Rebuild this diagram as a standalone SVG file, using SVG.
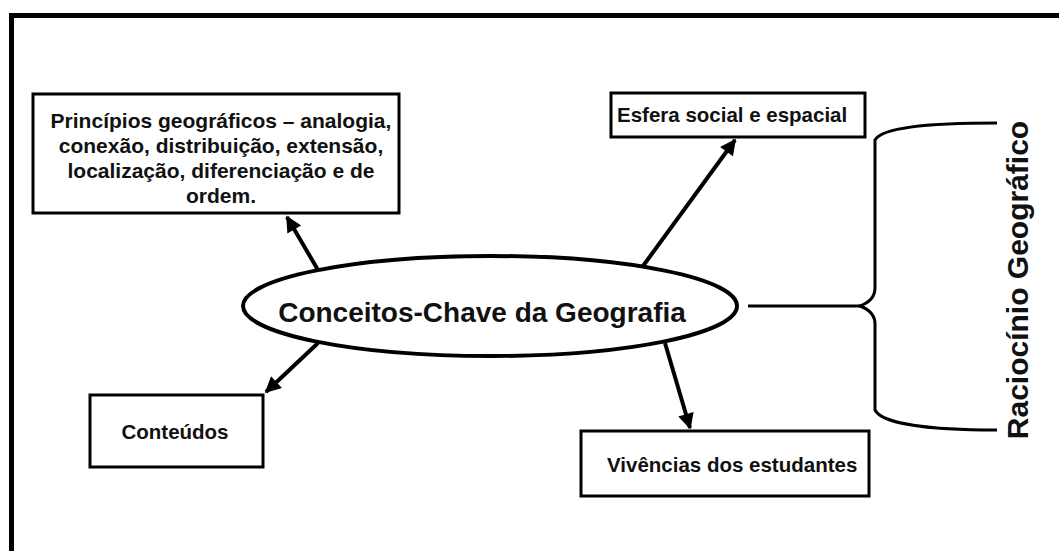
<svg xmlns="http://www.w3.org/2000/svg" width="1059" height="551" viewBox="0 0 1059 551">
<style>
.box{fill:#fff;stroke:#000;stroke-width:3}
.t{font-family:"Liberation Sans",Arial,sans-serif;font-weight:bold;fill:#111;font-size:20.5px}
.p{font-size:21px}
.c{stroke:#000;stroke-width:4;fill:none}
.br{stroke:#000;stroke-width:3;fill:none}
</style>
<defs>
<marker id="ah" viewBox="0 0 10 10" refX="9" refY="5" markerWidth="5.2" markerHeight="4" orient="auto" markerUnits="strokeWidth">
<path d="M0,0 L10,5 L0,10 z" fill="#000"/>
</marker>
</defs>
<rect x="0" y="0" width="1059" height="551" fill="#fff"/>
<rect x="11.5" y="15.5" width="1200" height="700" fill="none" stroke="#000" stroke-width="5"/>
<g id="connectors">
<line class="c" x1="318" y1="270" x2="287" y2="217" marker-end="url(#ah)"/>
<line class="c" x1="643" y1="266" x2="735" y2="140" marker-end="url(#ah)"/>
<line class="c" x1="318" y1="343" x2="266" y2="392" marker-end="url(#ah)"/>
<line class="c" x1="665" y1="343" x2="690" y2="428" marker-end="url(#ah)"/>
<line class="br" x1="748" y1="306" x2="860" y2="306"/>
<path class="br" d="M997,123 C930,123 882,127 875,140 L875,288 C875,298 868,303 860,306 C868,309 875,314 875,324 L875,410 C882,424 930,430 997,430"/>
</g>
<g id="n-principios">
<rect class="box" x="33" y="94" width="366" height="119"/>
<text class="t p" text-anchor="middle" x="221" y="128">Princípios geográficos – analogia,</text>
<text class="t p" text-anchor="middle" x="221" y="153">conexão, distribuição, extensão,</text>
<text class="t p" text-anchor="middle" x="221" y="178">localização, diferenciação e de</text>
<text class="t p" text-anchor="middle" x="221" y="203">ordem.</text>
</g>
<g id="n-esfera">
<rect class="box" x="611" y="93" width="254" height="44"/>
<text class="t" x="617" y="122">Esfera social e espacial</text>
</g>
<g id="n-conceitos">
<ellipse cx="490" cy="306" rx="247" ry="50" fill="#fff" stroke="#000" stroke-width="4"/>
<text class="t" style="font-size:28px" text-anchor="middle" x="482" y="322">Conceitos-Chave da Geografia</text>
</g>
<g id="n-conteudos">
<rect class="box" x="90" y="395" width="173" height="72"/>
<text class="t" text-anchor="middle" x="175" y="439">Conteúdos</text>
</g>
<g id="n-vivencias">
<rect class="box" x="581" y="431" width="288" height="65"/>
<text class="t" x="607" y="472">Vivências dos estudantes</text>
</g>
<g id="n-raciocinio">
<text class="t" style="font-size:30px" text-anchor="middle" transform="translate(1028,280) rotate(-90)">Raciocínio Geográfico</text>
</g>
</svg>
